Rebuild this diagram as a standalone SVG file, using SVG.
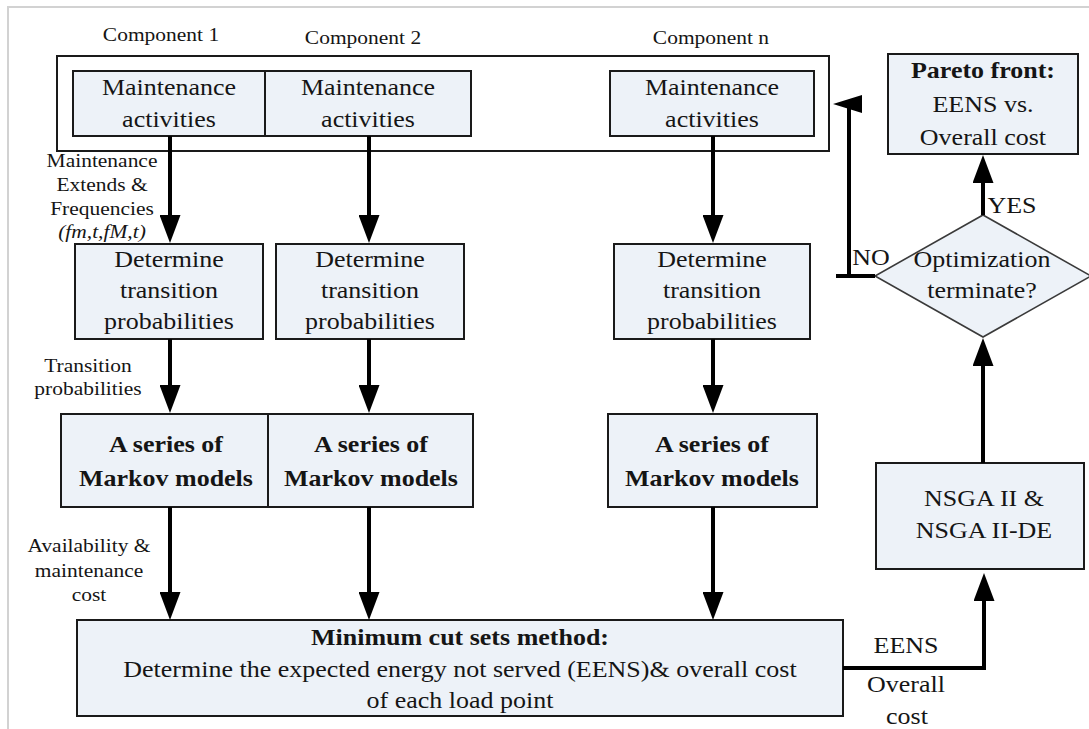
<svg xmlns="http://www.w3.org/2000/svg" width="1089" height="729" viewBox="0 0 1089 729">
  <style>
    .box { fill: #edf2f8; stroke: #1a1a1a; stroke-width: 2; }
    .frame { fill: #ffffff; stroke: #1a1a1a; stroke-width: 2; }
    .dia { fill: #edf2f8; stroke: #3a3a3a; stroke-width: 1.6; }
    .t { font-family: "Liberation Serif", "Times New Roman", serif; font-size: 23px; fill: #151515; text-anchor: middle;
         transform-box: fill-box; transform-origin: center; transform: scaleX(1.13); }
    .b { font-weight: bold; }
    .s { font-size: 19px; }
    .i { font-style: italic; }
    .wire { fill: none; stroke: #000; stroke-width: 4; }
    .head { fill: #000; }
  </style>
  <defs>
    <marker id="arrow" viewBox="0 0 28 21" markerWidth="28" markerHeight="21" markerUnits="userSpaceOnUse" refX="0" refY="10.5" orient="auto">
      <path d="M0,0 L28,10.5 L0,21 z" class="head"/>
    </marker>
  </defs>

  <rect width="1089" height="729" fill="#ffffff"/>
  <!-- page border -->
  <path d="M8,729 V7 H1089" fill="none" stroke="#d2d2d2" stroke-width="2"/>

  <!-- component headings -->
  <g id="headings">
    <text class="t s" x="161" y="41">Component 1</text>
    <text class="t s" x="363" y="44">Component 2</text>
    <text class="t s" x="711" y="44">Component n</text>
  </g>

  <!-- container of the maintenance activity boxes -->
  <g id="components">
    <rect class="frame" x="57" y="56" width="772" height="95"/>
  </g>

  <g id="maint1">
    <rect class="box" x="73" y="71" width="192" height="65"/>
    <text class="t" x="169" y="95">Maintenance</text>
    <text class="t" x="169" y="127">activities</text>
  </g>
  <g id="maint2">
    <rect class="box" x="265" y="71" width="206" height="65"/>
    <text class="t" x="368" y="95">Maintenance</text>
    <text class="t" x="368" y="127">activities</text>
  </g>
  <g id="maintn">
    <rect class="box" x="610" y="71" width="204" height="65"/>
    <text class="t" x="712" y="95">Maintenance</text>
    <text class="t" x="712" y="127">activities</text>
  </g>

  <g id="trans1">
    <rect class="box" x="75" y="244" width="188" height="95"/>
    <text class="t" x="169" y="267">Determine</text>
    <text class="t" x="169" y="298">transition</text>
    <text class="t" x="169" y="329">probabilities</text>
  </g>
  <g id="trans2">
    <rect class="box" x="276" y="244" width="188" height="95"/>
    <text class="t" x="370" y="267">Determine</text>
    <text class="t" x="370" y="298">transition</text>
    <text class="t" x="370" y="329">probabilities</text>
  </g>
  <g id="transn">
    <rect class="box" x="614" y="244" width="196" height="95"/>
    <text class="t" x="712" y="267">Determine</text>
    <text class="t" x="712" y="298">transition</text>
    <text class="t" x="712" y="329">probabilities</text>
  </g>

  <g id="markov1">
    <rect class="box" x="61" y="414" width="207" height="93"/>
    <text class="t b" x="166" y="452">A series of</text>
    <text class="t b" x="166" y="486">Markov models</text>
  </g>
  <g id="markov2">
    <rect class="box" x="268" y="414" width="205" height="93"/>
    <text class="t b" x="371" y="452">A series of</text>
    <text class="t b" x="371" y="486">Markov models</text>
  </g>
  <g id="markovn">
    <rect class="box" x="608" y="414" width="209" height="93"/>
    <text class="t b" x="712" y="452">A series of</text>
    <text class="t b" x="712" y="486">Markov models</text>
  </g>

  <g id="mincut">
    <rect class="box" x="77" y="620" width="766" height="96"/>
    <text class="t b" x="460" y="645">Minimum cut sets method:</text>
    <text class="t" x="460" y="677">Determine the expected energy not served (EENS)&amp; overall cost</text>
    <text class="t" x="460" y="708">of each load point</text>
  </g>

  <g id="nsga">
    <rect class="box" x="876" y="463" width="208" height="106"/>
    <text class="t" x="984" y="506">NSGA II &amp;</text>
    <text class="t" x="984" y="538">NSGA II-DE</text>
  </g>

  <g id="terminate">
    <polygon class="dia" points="983,215 1091,276 983,337 875,276"/>
    <text class="t" x="982" y="267">Optimization</text>
    <text class="t" x="982" y="298">terminate?</text>
  </g>

  <g id="pareto">
    <rect class="box" x="888" y="54" width="190" height="100"/>
    <text class="t b" x="983" y="78">Pareto front:</text>
    <text class="t" x="983" y="112">EENS vs.</text>
    <text class="t" x="983" y="145">Overall cost</text>
  </g>

  <!-- connectors -->
  <g id="connectors">
    <path class="wire" d="M170,136 V215" marker-end="url(#arrow)"/>
    <path class="wire" d="M369,136 V215" marker-end="url(#arrow)"/>
    <path class="wire" d="M713,136 V215" marker-end="url(#arrow)"/>

    <path class="wire" d="M170,339 V385" marker-end="url(#arrow)"/>
    <path class="wire" d="M369,339 V385" marker-end="url(#arrow)"/>
    <path class="wire" d="M713,339 V385" marker-end="url(#arrow)"/>

    <path class="wire" d="M170,507 V592" marker-end="url(#arrow)"/>
    <path class="wire" d="M369,507 V592" marker-end="url(#arrow)"/>
    <path class="wire" d="M713,507 V592" marker-end="url(#arrow)"/>

    <path class="wire" d="M843,668 H984 V601" marker-end="url(#arrow)"/>
    <path class="wire" d="M983,463 V366" marker-end="url(#arrow)"/>
    <path class="wire" d="M983,215 V183" marker-end="url(#arrow)"/>

    <path class="wire" d="M875,276 H836"/>
    <path class="wire" d="M849,276 V104"/>
    <polygon class="head" points="833,104 862,95 862,113"/>
  </g>

  <!-- connector labels -->
  <g id="labels">
    <text class="t s" x="102" y="167">Maintenance</text>
    <text class="t s" x="102" y="191">Extends &amp;</text>
    <text class="t s" x="102" y="215">Frequencies</text>
    <text class="t s i" x="102" y="238">(fm,t,fM,t)</text>

    <text class="t s" x="88" y="372">Transition</text>
    <text class="t s" x="88" y="395">probabilities</text>

    <text class="t s" x="89" y="552">Availability &amp;</text>
    <text class="t s" x="89" y="577">maintenance</text>
    <text class="t s" x="89" y="601">cost</text>

    <text class="t" x="906" y="653">EENS</text>
    <text class="t" x="906" y="692">Overall</text>
    <text class="t" x="907" y="724">cost</text>

    <text class="t" x="1012" y="213">YES</text>
    <text class="t" x="871" y="265">NO</text>
  </g>
</svg>
